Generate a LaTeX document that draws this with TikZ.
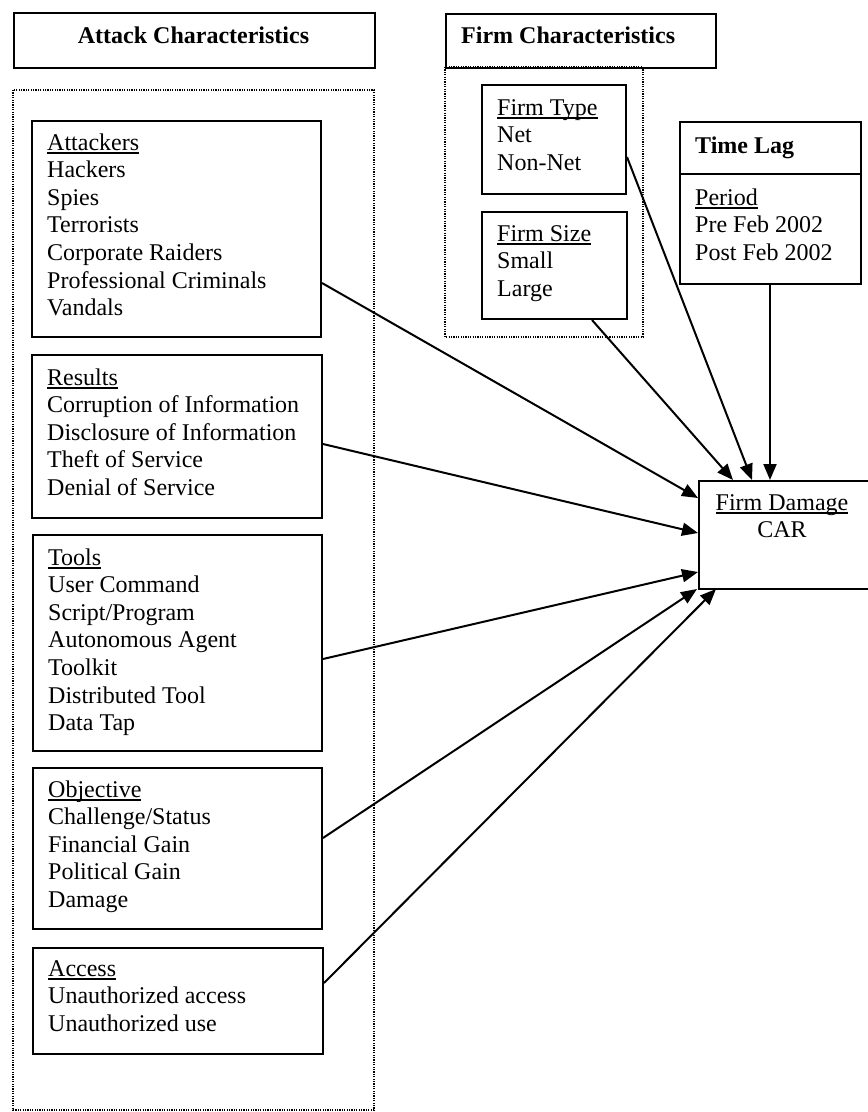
\documentclass[tikz,border=0pt]{standalone}
\usepackage{fontspec}
\setmainfont{Liberation Serif}
\usetikzlibrary{arrows.meta}

% underlined heading with a fixed rule below the baseline
\newcommand\ulhead[1]{\setbox0\hbox{#1}\rlap{\rule[-3.5pt]{\wd0}{1.3pt}}\box0}
% stacked list whose baseline is the first line
\newcommand\stack[1]{\begin{tabular}[t]{@{}l@{}}#1\end{tabular}}

\tikzset{
  box/.style={draw, line width=2pt, anchor=north west, inner sep=0pt},
  group/.style={draw, line width=1.3pt, dash pattern=on 1.2pt off 1.2pt},
  lbl/.style={inner sep=0pt, anchor=base west, font=\fontsize{24}{27.6}\selectfont},
  head/.style={lbl, font=\fontsize{24}{27.6}\selectfont\bfseries},
  link/.style={line width=2pt, -{Triangle[length=16pt,width=13pt]}},
}

\begin{document}
\begin{tikzpicture}[x=1pt,y=-1pt]
\useasboundingbox (0,0) rectangle (868,1112);
\fill[white] (0,0) rectangle (868,1112);

% ---- attack characteristics ----
\node[box, minimum width=361pt, minimum height=55pt] (acH) at (13,12) {};
\node[head, anchor=base] (acHt) at (193.5,43) {Attack Characteristics};
\draw[group] (13,90) rectangle (374,1110);

\node[box, minimum width=289pt, minimum height=216pt] (atk) at (31,120) {};
\node[lbl] (atkt) at (47,150) {\stack{\ulhead{Attackers}\\Hackers\\Spies\\Terrorists\\Corporate Raiders\\Professional Criminals\\Vandals}};

\node[box, minimum width=290pt, minimum height=163pt] (res) at (31,354) {};
\node[lbl] (rest) at (47,385) {\stack{\ulhead{Results}\\Corruption of Information\\Disclosure of Information\\Theft of Service\\Denial of Service}};

\node[box, minimum width=289pt, minimum height=216pt] (tls) at (32,534) {};
\node[lbl] (tlst) at (48,565) {\stack{\ulhead{Tools}\\User Command\\Script/Program\\Autonomous Agent\\Toolkit\\Distributed Tool\\Data Tap}};

\node[box, minimum width=289pt, minimum height=161pt] (obj) at (32,767) {};
\node[lbl] (objt) at (48,797) {\stack{\ulhead{Objective}\\Challenge/Status\\Financial Gain\\Political Gain\\Damage}};

\node[box, minimum width=290pt, minimum height=106pt] (acc) at (32,947) {};
\node[lbl] (acct) at (48,976) {\stack{\ulhead{Access}\\Unauthorized access\\Unauthorized use}};

% ---- firm characteristics ----
\draw[group] (445,67) rectangle (643,337);
\node[box, minimum width=270pt, minimum height=54pt] (fcH) at (445,13) {};
\node[head] (fcHt) at (461,43) {Firm Characteristics};

\node[box, minimum width=144pt, minimum height=109pt] (fty) at (481,84) {};
\node[lbl] (ftyt) at (497,115) {\stack{\ulhead{Firm Type}\\Net\\Non-Net}};

\node[box, minimum width=145pt, minimum height=107pt] (fsz) at (481,211) {};
\node[lbl] (fszt) at (497,241) {\stack{\ulhead{Firm Size}\\Small\\Large}};

% ---- time lag ----
\node[box, minimum width=181pt, minimum height=162pt] (lag) at (679,121) {};
\draw[line width=2pt] ([yshift=-53pt]lag.north west) -- ([yshift=-53pt]lag.north east);
\node[head] (lagh) at (695,153) {Time Lag};
\node[lbl] (lagt) at (695,205) {\stack{\ulhead{Period}\\Pre Feb 2002\\Post Feb 2002}};

% ---- firm damage ----
\node[box, minimum width=190pt, minimum height=108pt] (dmg) at (698,480) {};
\node[lbl, anchor=base] (dmgt) at (782,510) {\begin{tabular}[t]{@{}c@{}}\ulhead{Firm Damage}\\CAR\end{tabular}};

% ---- connectors ----
\draw[link] ([yshift=-163pt]atk.north east) -- ([yshift=-18pt]dmg.north west);
\draw[link] ([yshift=-90pt]res.north east) -- ([yshift=-53pt]dmg.north west);
\draw[link] ([yshift=-125pt]tls.north east) -- ([yshift=-92pt]dmg.north west);
\draw[link] ([yshift=-71pt]obj.north east) -- ([xshift=-1pt,yshift=1pt]dmg.south west);
\draw[link] ([yshift=-36pt]acc.north east) -- ([xshift=18pt,yshift=1pt]dmg.south west);
\draw[link] ([xshift=111pt]fsz.south west) -- ([xshift=35pt]dmg.north west);
\draw[link] ([yshift=-73pt]fty.north east) -- ([xshift=54pt]dmg.north west);
\draw[link] ([xshift=91pt]lag.south west) -- ([xshift=72pt]dmg.north west);
\end{tikzpicture}
\end{document}
